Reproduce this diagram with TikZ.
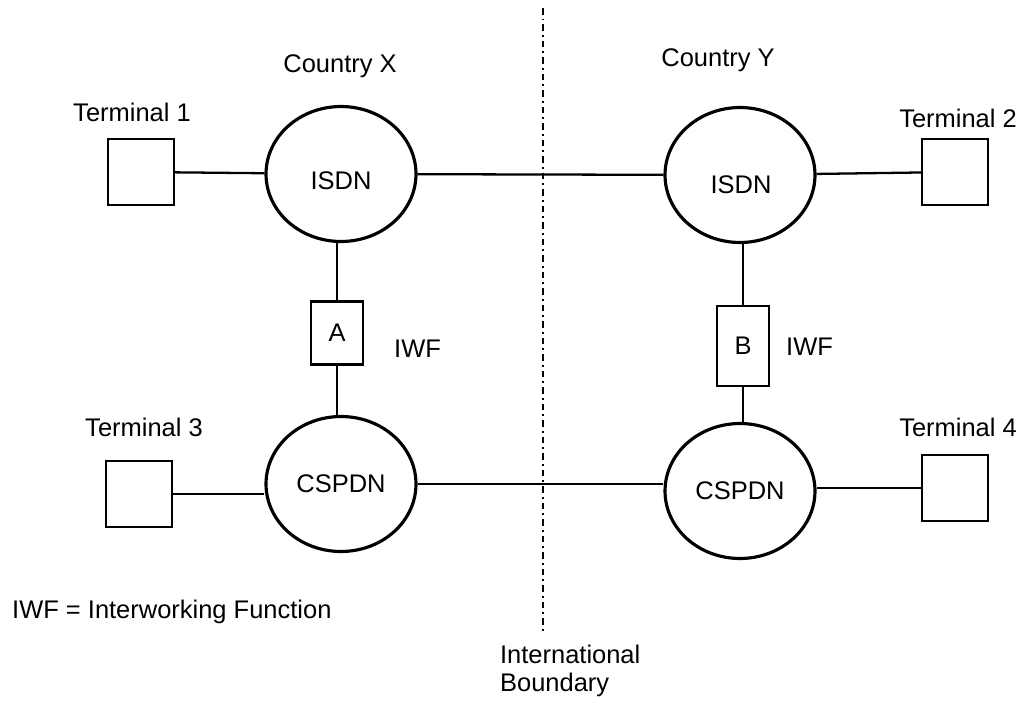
\documentclass[tikz,border=0pt]{standalone}
\usepackage{fontspec}
\setmainfont{Liberation Sans}
\usetikzlibrary{shapes.geometric}

\begin{document}
\begin{tikzpicture}[x=0.02cm,y=-0.02cm,
	every node/.style={font=\fontsize{14.5}{18}\selectfont},
	net/.style={draw, ellipse, line width=1.8pt, minimum width=3cm, minimum height=2.7cm, inner sep=0pt},
	term/.style={draw, line width=1.3pt, minimum size=1.32cm, inner sep=0pt},
	iwf/.style={draw, line width=1.2pt, minimum width=1.04cm, minimum height=1.26cm, inner sep=0pt},
	link/.style={line width=1.3pt},
	thinlink/.style={line width=0.9pt},
	border/.style={line width=1.6pt, dash pattern=on 0.13cm off 0.08cm on 0.04cm off 0.08cm}]

	\useasboundingbox (0,0) rectangle (1028,700);

	%the international boundary
	\coordinate (btop) at (543,8);
	\coordinate (bbot) at (543,634);
	\draw[border] (btop) -- (bbot);

	%networks
	\node[net] (isdnx) at (341,174) {};
	\node[net] (isdny) at (740,175) {};
	\node (nx) at (341,181) {ISDN};
	\node (ny) at (741,185) {ISDN};
	\node[net] (cspdnx) at (341,484) {CSPDN};
	\node[net] (cspdny) at (740,491) {CSPDN};

	%terminals
	\node[term] (t1) at (141,172) {};
	\node[term] (t2) at (955,172) {};
	\node[term] (t3) at (139,494) {};
	\node[term] (t4) at (955,488) {};
	\node (tl1) at (132,112) {Terminal 1};
	\node (tl2) at (958,118) {Terminal 2};
	\node (tl3) at (144,427) {Terminal 3};
	\node (tl4) at (958,427) {Terminal 4};

	%interworking units
	\node[iwf] (a) at (337,333) {A};
	\node[iwf, minimum height=1.6cm] (b) at (743,346) {B};
	\node[anchor=west] (fa) at (388,349) {IWF};
	\node[anchor=west] (fb) at (780,347) {IWF};

	\node (cx) at (340,66) {Country X};
	\node (cy) at (718,60) {Country Y};

	%links
	\draw[link] (t1) -- (isdnx);
	\draw[link] (isdnx) -- (isdny);
	\draw[link] (isdny) -- (t2);
	\draw[link] (a.north) -- (a.north |- isdnx.south);
	\draw[link] (a.south) -- (a.south |- cspdnx.north);
	\draw[link] (b.north) -- (b.north |- isdny.south);
	\draw[link] (b.south) -- (b.south |- cspdny.north);
	\draw[thinlink] (t3.east) -- (t3.east -| cspdnx.west);
	\draw[thinlink] (cspdnx.east) -- (cspdnx.east -| cspdny.west);
	\draw[thinlink] (t4.west -| cspdny.east) -- (t4.west);

	\node[anchor=west] (key) at (6,612) {IWF = Interworking Function};
	\node[anchor=south west, align=left, inner sep=1pt,
		font=\fontsize{14.5}{16}\selectfont] (ib) at (498,699) {International\\Boundary};

\end{tikzpicture}
\end{document}
